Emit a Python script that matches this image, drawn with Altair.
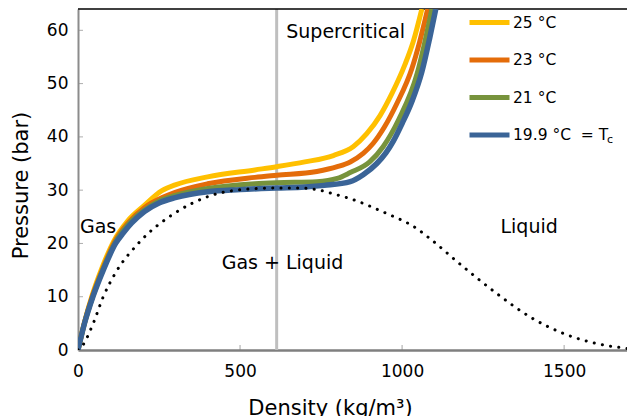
import altair as alt
import pandas as pd

FONT = "DejaVu Sans"

# ---- data ----
series_labels = ["25 °C", "23 °C", "21 °C", "19.9 °C"]
series_colors = ["#FFC000", "#E46C0A", "#77933C", "#3A6497"]

d_25 = [0, 20, 44, 74, 110, 153, 202, 259, 300, 400, 546, 613, 700, 788, 850, 891, 932, 970, 1009, 1035, 1061]
p_25 = [0, 5.2, 10.3, 15.4, 20.4, 24.2, 27.0, 29.9, 31.0, 32.5, 33.8, 34.4, 35.3, 36.5, 38.2, 40.6, 44.0, 48.3, 53.6, 58.0, 64]

d_23 = [0, 20, 45, 76, 112, 157, 207, 260, 300, 400, 546, 613, 737, 800, 840, 880, 911, 945, 985, 1030, 1054, 1079]
p_23 = [0, 5.1, 10.2, 15.2, 20.2, 24.0, 26.8, 28.6, 29.6, 31.2, 32.4, 32.8, 33.5, 34.4, 35.3, 36.9, 38.8, 41.8, 46.4, 52.8, 57.8, 64]

d_21 = [0, 20, 46, 77, 114, 160, 208, 255, 300, 400, 546, 613, 737, 800, 840, 900, 942, 990, 1047, 1068, 1092]
p_21 = [0, 5, 10.1, 15.1, 20.1, 23.9, 26.4, 28.1, 29.0, 30.3, 31.2, 31.4, 31.6, 32.2, 33.3, 35.3, 38.2, 43.3, 52.0, 57.2, 64]

d_19 = [0, 20, 46, 78, 116, 140, 165, 205, 250, 300, 400, 500, 613, 700, 760, 840, 880, 922, 950, 973, 1000, 1030, 1061, 1085, 1104]
p_19 = [0, 5, 10, 15, 20, 22, 23.8, 26, 27.6, 28.6, 29.7, 30.1, 30.4, 30.6, 30.9, 31.6, 32.9, 35, 37, 39.2, 42.5, 46.6, 52.2, 58.5, 64]

coex_d = [0, 11, 47, 78, 114, 186, 299, 401, 525, 613, 680, 737, 788, 840, 942, 1045, 1086, 1189, 1292, 1395, 1498, 1601, 1694]
coex_p = [0, 0.6, 5, 10, 14.3, 20, 25.7, 28.8, 30.2, 30.4, 30.4, 30.1, 29.3, 28.4, 25.9, 22.8, 20.9, 15.6, 10.6, 6.2, 3.1, 1.2, 0.3]

crit_density = 613

xtick_vals = [500, 1000, 1500]
ytick_vals = [10, 20, 30, 40, 50, 60]

region_labels = ["Gas", "Gas + Liquid", "Liquid", "Supercritical"]
region_d = [6, 631, 1392, 826]
region_p = [21.9, 15.2, 21.9, 58.5]
region_align = ["left", "center", "center", "center"]

X_MAX = 1694
Y_MAX = 64

xscale = alt.Scale(domain=[0, X_MAX], nice=False, zero=False)
yscale = alt.Scale(domain=[0, Y_MAX], nice=False)

series = [(series_labels[0], d_25, p_25),
          (series_labels[1], d_23, p_23),
          (series_labels[2], d_21, p_21),
          (series_labels[3], d_19, p_19)]

color_enc_legend = alt.Legend(
    orient="none", legendX=389, legendY=3.5, title=None,
    symbolType="stroke", symbolSize=1600, symbolStrokeWidth=5,
    labelFont=FONT, labelFontSize=15.5, labelColor="black", labelOffset=1,
    clipHeight=20, rowPadding=17.5, padding=0,
    labelExpr="datum.label == '19.9 °C' ? '19.9 °C\u00a0\u00a0= T' : datum.label",
)

x_axis = alt.Axis(
    values=[0, 500, 1000, 1500], format="d", labelFlush=False,
    ticks=False, tickSize=0, grid=False,
    domainColor="#7f7f7f", domainWidth=2.5,
    labelFont=FONT, labelFontSize=17, labelColor="black",
    labelBaseline="alphabetic", labelPadding=26,
    title="Density (kg/m³)", titleFont=FONT, titleFontSize=21, titleFontWeight="normal",
    titleColor="black", titleX=252, titleY=64, titleAlign="center", titleBaseline="alphabetic",
)
y_axis = alt.Axis(
    values=[0, 10, 20, 30, 40, 50, 60], labelFlush=False,
    ticks=False, tickSize=0, grid=False,
    domainColor="#8c8c8c", domainWidth=2,
    labelFont=FONT, labelFontSize=17, labelColor="black", labelPadding=10,
    title="Pressure (bar)", titleFont=FONT, titleFontSize=21, titleFontWeight="normal",
    titleColor="black", titleX=-51, titleY=176, titleAlign="center", titleBaseline="alphabetic",
    titleAngle=270,
)

layers = []

# critical density line and top border
layers.append(alt.Chart(pd.DataFrame({"d": [crit_density]})).mark_rule(
    color="#BFBFBF", strokeWidth=3).encode(x=alt.X("d:Q", scale=xscale, axis=x_axis)))
layers.append(alt.Chart(pd.DataFrame({"p": [Y_MAX]})).mark_rule(
    color="black", strokeWidth=1.3).encode(y=alt.Y("p:Q", scale=yscale, axis=y_axis)))

for i, (lab, dd, pp) in enumerate(series):
    df = pd.DataFrame({"d": dd, "p": pp, "T": lab})
    layers.append(alt.Chart(df).mark_line(
        strokeWidth=5.5 if i == 3 else 5, interpolate="monotone", clip=True).encode(
        x=alt.X("d:Q", scale=xscale, axis=x_axis),
        y=alt.Y("p:Q", scale=yscale, axis=y_axis),
        color=alt.Color("T:N", scale=alt.Scale(domain=series_labels, range=series_colors),
                        legend=color_enc_legend),
    ))

coex = pd.DataFrame({"d": coex_d, "p": coex_p})
layers.append(alt.Chart(coex).mark_line(
    color="black", strokeWidth=3, strokeDash=[0.1, 8.2], strokeCap="round",
    interpolate="monotone", clip=True).encode(
    x=alt.X("d:Q", scale=xscale, axis=x_axis),
    y=alt.Y("p:Q", scale=yscale, axis=y_axis),
))

# inward ticks
layers.append(alt.Chart(pd.DataFrame({"v": xtick_vals})).mark_tick(
    orient="vertical", size=5, thickness=1, yOffset=-2.5, color="#7f7f7f").encode(
    x=alt.X("v:Q", scale=xscale, axis=x_axis), y=alt.datum(0)))
layers.append(alt.Chart(pd.DataFrame({"v": ytick_vals})).mark_tick(
    orient="horizontal", size=5, thickness=1, xOffset=2.5, color="#8c8c8c").encode(
    y=alt.Y("v:Q", scale=yscale, axis=y_axis), x=alt.datum(0)))

# region annotations
reg = pd.DataFrame({"label": region_labels, "d": region_d, "p": region_p, "al": region_align})
for al in ["left", "center"]:
    layers.append(alt.Chart(reg[reg["al"] == al]).mark_text(
        font=FONT, fontSize=19, color="black", align=al, baseline="alphabetic").encode(
        x=alt.X("d:Q", scale=xscale, axis=x_axis),
        y=alt.Y("p:Q", scale=yscale, axis=y_axis),
        text="label:N"))

# subscript of T_c in legend
sub = pd.DataFrame({"t": ["c"], "d": [1632], "p": [38.9]})
layers.append(alt.Chart(sub).mark_text(
    font=FONT, fontSize=11, color="black", align="left", baseline="alphabetic").encode(
    x=alt.X("d:Q", scale=xscale, axis=x_axis),
    y=alt.Y("p:Q", scale=yscale, axis=y_axis),
    text="t:N"))

chart = alt.layer(*layers).properties(
    width=549, height=341,
    autosize=alt.AutoSizeParams(type="none"),
    padding={"left": 78, "top": 9, "right": 0, "bottom": 66},
    background="white",
).configure_view(stroke=None)

chart.save("out.html", embed_options={"renderer": "svg", "actions": False})
